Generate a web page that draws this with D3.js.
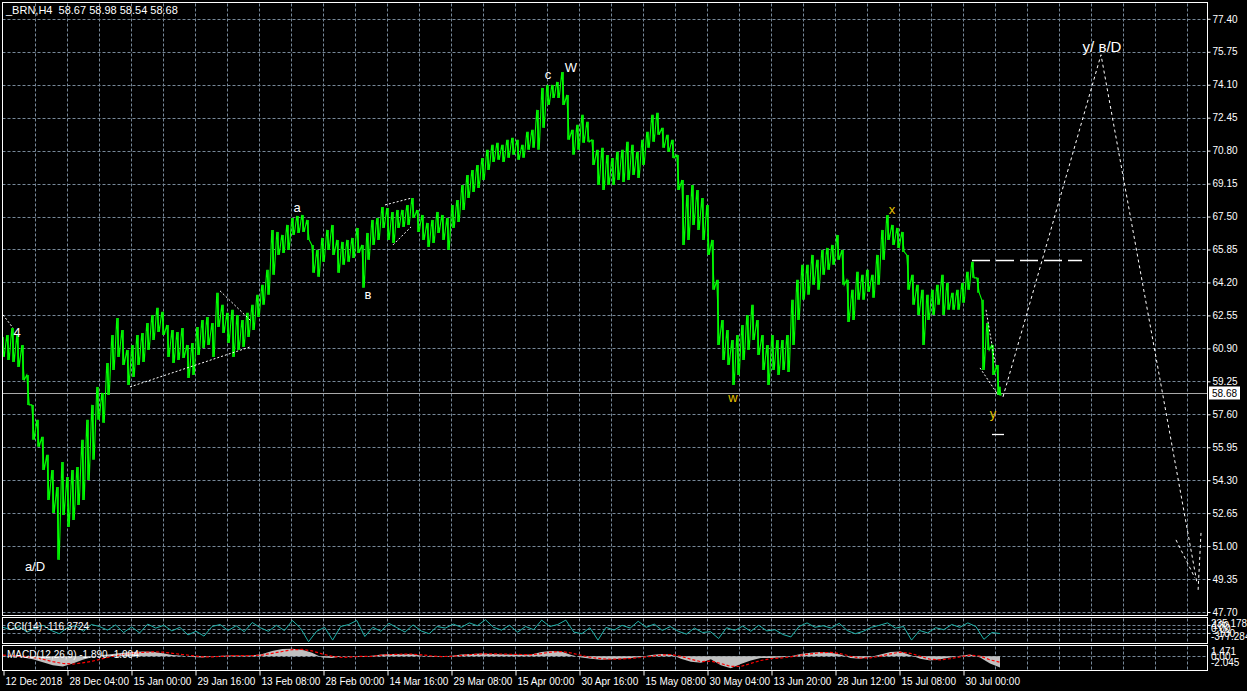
<!DOCTYPE html>
<html><head><meta charset="utf-8">
<script src="https://cdn.jsdelivr.net/npm/d3@7"></script>
<style>
html,body{margin:0;padding:0;background:#000;}
svg{display:block;}
.ui{font-family:"Liberation Sans",Arial,sans-serif;font-size:10px;fill:#fff;}
.wave{font-family:"Liberation Sans",Arial,sans-serif;}
</style></head><body>
<svg id="chart" width="1247" height="691"></svg>
<script>
// ---------------- DATA ----------------
const headerText = "_BRN,H4  58.67 58.98 58.54 58.68";
const barStep = 5;            // sampled every 5 H4 bars
const lastBarIndex = 997;
const priceHigh = [
61.47,61.57,61.92,61.57,61.07,59.57,58.07,57.32,56.47,55.57,
54.81,53.96,55.21,54.46,54.81,54.96,56.32,57.32,58.07,58.97,
58.67,60.17,61.57,62.42,61.82,60.82,61.07,61.57,61.67,62.17,
62.57,62.93,62.73,62.07,61.82,61.72,61.92,61.07,61.17,61.97,
62.32,62.47,62.17,63.68,63.08,62.68,62.83,62.57,62.32,62.68,
63.08,63.58,64.08,64.83,66.83,66.73,66.58,67.08,67.43,67.53,
67.58,67.33,66.08,65.83,66.43,66.83,67.08,66.33,66.23,66.33,
66.43,66.93,66.08,66.68,67.33,67.43,67.98,67.93,67.73,67.83,
67.83,68.08,68.43,67.83,67.58,67.18,67.33,67.73,67.58,67.43,
68.08,68.33,69.08,69.58,69.83,70.08,70.43,70.84,71.09,71.19,
71.09,71.34,71.44,71.34,71.09,71.74,71.84,72.84,73.94,74.09,
74.09,74.24,74.74,73.59,71.84,72.09,72.59,72.24,71.34,70.84,
70.94,70.58,70.43,70.74,70.84,71.24,71.09,70.74,71.34,71.74,
72.59,72.69,71.94,71.59,71.34,70.58,69.33,68.58,69.08,68.83,
68.43,68.08,66.33,64.33,62.32,61.82,61.32,61.57,62.07,62.57,
63.08,62.32,61.57,61.07,61.57,61.32,61.32,61.57,63.33,64.33,
65.08,65.08,65.58,65.33,65.83,65.93,66.08,66.58,65.83,64.33,
63.83,64.73,64.58,64.83,64.58,65.58,66.83,67.58,67.08,66.93,
66.73,65.58,64.58,64.08,63.83,63.58,63.83,64.08,64.58,64.18,
63.68,63.83,64.18,64.73,65.23,64.43,63.33,62.17,61.07,60.07,
58.98];
const priceLow = [
60.47,60.32,60.22,59.97,59.32,58.07,56.32,55.97,54.81,53.31,
52.66,50.31,52.56,51.96,52.31,53.06,53.31,54.31,55.32,57.32,
57.17,58.57,59.82,60.47,60.07,59.07,59.47,60.07,60.22,60.82,
61.32,61.72,61.57,60.47,60.17,60.32,60.42,59.42,59.57,60.57,
60.92,61.07,60.47,61.97,61.67,61.17,60.47,60.82,60.97,61.47,
61.82,62.47,63.08,63.58,64.58,65.58,65.68,65.83,66.58,66.68,
66.73,66.33,64.68,64.48,65.23,65.83,65.58,64.68,65.08,65.23,
65.43,65.68,63.93,65.33,66.08,66.33,66.93,66.33,66.18,66.93,
66.98,67.08,67.43,66.73,66.33,65.98,66.18,66.68,66.33,65.83,
66.93,67.23,67.83,68.43,68.73,68.93,69.33,69.83,70.23,70.34,
70.23,70.44,70.59,70.34,70.44,70.84,70.94,70.84,71.94,73.09,
73.44,73.44,73.09,71.34,70.59,70.84,71.19,71.24,70.08,69.08,
68.83,69.08,69.08,69.33,69.23,69.33,69.58,69.43,70.08,70.94,
71.24,71.59,70.94,70.74,70.43,68.83,66.08,66.33,67.08,66.83,
66.33,65.58,63.83,61.07,60.32,60.07,59.07,59.57,60.32,60.82,
61.32,60.57,59.82,59.07,59.82,59.57,59.82,59.72,61.07,62.32,
63.33,63.58,64.08,63.83,64.58,64.83,65.08,65.33,64.08,62.22,
62.32,63.33,63.33,63.73,63.43,64.08,65.33,66.33,66.08,65.93,
65.73,63.83,63.08,62.57,61.07,62.32,62.57,63.08,62.57,62.83,
62.83,62.83,63.18,63.83,64.43,63.68,59.82,60.82,59.57,58.57,
58.54];
const lastClose = 58.68;

const priceTicks = [77.40,75.75,74.10,72.45,70.80,69.15,67.50,65.85,64.20,62.55,
                    60.90,59.25,57.60,55.95,54.30,52.65,51.00,49.35,47.70];
const timeLabels = ["12 Dec 2018","28 Dec 04:00","15 Jan 00:00","29 Jan 16:00","13 Feb 08:00",
  "28 Feb 00:00","14 Mar 16:00","29 Mar 08:00","15 Apr 00:00","30 Apr 16:00","15 May 08:00",
  "30 May 04:00","13 Jun 20:00","28 Jun 12:00","15 Jul 08:00","30 Jul 00:00"];
const barsPerLabel = 64;

const cciValues = [
40,-20,60,-80,20,90,-40,-120,30,80,
-60,110,60,-30,100,-90,50,-100,120,20,
90,-50,40,-150,-60,-180,60,110,-40,80,
-70,160,30,-60,90,-40,210,20,-320,-60,
40,-280,60,110,210,-190,40,-60,140,30,
-80,100,-50,-120,60,20,120,40,150,80,
230,40,-30,90,-80,60,-20,220,60,110,
220,-80,-120,30,-280,40,-30,90,20,190,
40,120,-40,60,-60,-130,20,-90,-70,-240,
30,-40,70,-60,90,-50,-20,-140,-200,60,
150,40,80,20,140,-40,-120,-60,40,90,
150,20,60,-280,-40,-100,30,-20,110,40,
150,60,-260,-90,-116.3724];
const cciMax = 235.1787, cciMin = -377.284;
const cciLevels = [100, 0, -100];
const cciLabel = "CCI(14) -116.3724";

const macdMain = [
0.1,0.0,-0.2,-0.5,-1.0,-1.5,-1.7,-1.2,-0.6,-0.1,
0.2,0.4,0.6,0.7,0.8,0.75,0.5,0.2,0.1,-0.1,
-0.2,0.0,0.1,0.15,0.1,0.15,0.4,0.9,1.2,1.25,
1.1,0.6,-0.2,-0.3,0.0,0.05,-0.1,0.1,0.3,0.4,
0.35,0.4,0.1,-0.1,-0.05,0.1,0.3,0.4,0.45,0.4,
0.35,0.3,0.25,0.3,0.7,0.9,0.8,0.2,-0.2,-0.4,
-0.6,-0.5,-0.4,-0.3,-0.1,0.2,0.4,0.3,-0.4,-0.9,
-1.1,-0.5,-1.5,-2.0,-1.3,-0.7,-0.3,-0.3,-0.2,0.0,
0.4,0.6,0.7,0.6,0.3,-0.3,-0.4,-0.1,0.3,0.7,
0.8,0.2,-0.4,-0.7,-0.5,-0.2,0.1,0.3,-0.2,-1.2,
-1.89];
const macdSignal = [
0.2,0.1,0.0,-0.2,-0.5,-0.9,-1.2,-1.3,-1.1,-0.8,
-0.4,0.0,0.3,0.5,0.65,0.75,0.7,0.5,0.3,0.1,
-0.1,-0.1,0.0,0.1,0.1,0.1,0.2,0.5,0.8,1.1,
1.15,0.9,0.4,0.0,-0.2,-0.1,0.0,0.0,0.2,0.3,
0.35,0.35,0.25,0.05,-0.05,0.0,0.15,0.3,0.4,0.4,
0.38,0.33,0.3,0.28,0.45,0.7,0.8,0.55,0.15,-0.2,
-0.4,-0.5,-0.45,-0.35,-0.2,0.0,0.2,0.3,0.0,-0.5,
-0.9,-0.8,-1.2,-1.7,-1.7,-1.2,-0.7,-0.4,-0.3,-0.1,
0.2,0.4,0.6,0.65,0.45,0.0,-0.3,-0.25,0.0,0.4,
0.7,0.5,0.0,-0.5,-0.6,-0.4,-0.1,0.2,0.05,-0.6,
-1.0];
const macdMax = 1.471, macdMin = -2.045;
const macdLabel = "MACD(12,26,9) -1.890 -1.004";

// wave annotations (bar index, price)
const waveText  = ["4","a/D","a","в","c","W","w","x","y","y/ в/D"];
const waveBar   = [14, 32, 294, 365, 545, 568, 730, 889, 990, 1099];
const wavePrice = [61.67, 50.00, 67.93, 63.58, 74.59, 74.94, 58.42, 67.83, 57.62, 75.99];
const waveKind  = ["w","w","w","w","w","w","y","y","y","big"];

// dotted trend lines: [bar, price] start / end
const trendStart = [[0,62.58],[127,58.97],[217,63.78],[382,68.08],[390,66.08],[983,62.83],[977,59.92]];
const trendEnd   = [[10,61.92],[247,60.97],[248,62.27],[409,68.43],[408,66.98],[992,60.18],[995,58.57]];
// projected path
const projBar   = [1000, 1098, 1194];
const projPrice = [58.47, 75.60, 49.15];
const wedgeStart = [[1173,51.31],[1198,51.66]];
const wedgeEnd   = [[1192,49.40],[1195,48.70]];
// horizontal level lines
const levelDashed = {bars:[969,1079], price:65.31};
const levelSolid  = {bars:[989,1001], price:56.62};

// ---------------- DRAW ----------------
const svg = d3.select("#chart");
const W = 1247, H = 691;
const L = 2.5, R = 1207.5;
const mainTop = 2.5, mainBot = 615.5;
const cciTop = 617.5, cciBot = 643.5;
const macdTop = 645.5, macdBot = 670.5;
const gridColor = "#778899";

svg.append("rect").attr("width", W).attr("height", H).attr("fill", "#000");

const x = d3.scaleLinear().domain([0, 1205]).range([3, 1208]);
const y = d3.scaleLinear().domain([47.70, 77.40]).range([612, 18.8]);
const yC = d3.scaleLinear().domain([cciMin, cciMax]).range([644, 619.5]);
const yM = d3.scaleLinear().domain([macdMin, macdMax]).range([668.5, 647.5]);

// vertical grid in each panel
const gridBars = d3.range(32, 1186, 32);
[[mainTop, mainBot], [cciTop, cciBot], [macdTop, macdBot]].forEach(([t, b]) => {
  svg.append("g").selectAll("line").data(gridBars).join("line")
    .attr("x1", d => Math.round(x(d)) + 0.5).attr("x2", d => Math.round(x(d)) + 0.5)
    .attr("y1", t + 1).attr("y2", b - 1)
    .attr("stroke", gridColor).attr("stroke-dasharray", "3,2");
});
// horizontal grid main
svg.append("g").selectAll("line").data(priceTicks).join("line")
  .attr("x1", L).attr("x2", R)
  .attr("y1", d => Math.round(y(d)) + 0.5).attr("y2", d => Math.round(y(d)) + 0.5)
  .attr("stroke", gridColor).attr("stroke-dasharray", "3,2");
// CCI levels
svg.append("g").selectAll("line").data(cciLevels).join("line")
  .attr("x1", L).attr("x2", R)
  .attr("y1", d => Math.round(yC(d)) + 0.5).attr("y2", d => Math.round(yC(d)) + 0.5)
  .attr("stroke", gridColor).attr("stroke-dasharray", "3,2");
// MACD zero
svg.append("line").attr("x1", L).attr("x2", R)
  .attr("y1", Math.round(yM(0)) + 0.5).attr("y2", Math.round(yM(0)) + 0.5)
  .attr("stroke", gridColor).attr("stroke-dasharray", "3,2");

// current price line
svg.append("line").attr("x1", L).attr("x2", R)
  .attr("y1", Math.round(y(lastClose)) + 0.5).attr("y2", Math.round(y(lastClose)) + 0.5)
  .attr("stroke", "#a9a9a9");

// price bars (high/low sampled)
const priceBars = priceHigh.map((d, i) => i < priceHigh.length - 1 ? i * barStep : lastBarIndex);
const clipMain = svg.append("clipPath").attr("id", "clipMain")
  .append("rect").attr("x", L).attr("y", mainTop).attr("width", R - L).attr("height", mainBot - mainTop);
const pg = svg.append("g").attr("clip-path", "url(#clipMain)");
const pts = [];
priceBars.forEach((b, i) => {
  pts.push([x(b) - 1.25, y(priceHigh[i])]);
  pts.push([x(b) + 1.25, y(priceLow[i])]);
});
pg.append("path").attr("d", d3.line()(pts))
  .attr("fill", "none").attr("stroke", "#00ff00").attr("stroke-width", 1.1);
pg.selectAll("line.bar").data(priceBars).join("line").attr("class", "bar")
  .attr("x1", d => x(d)).attr("x2", d => x(d))
  .attr("y1", (d, i) => y(priceHigh[i])).attr("y2", (d, i) => y(priceLow[i]))
  .attr("stroke", "#00ff00").attr("stroke-width", 1.6);

// trend lines (dotted)
const tl = svg.append("g").attr("stroke", "#fff").attr("stroke-dasharray", "2,2").attr("fill", "none");
trendStart.forEach((s, i) => {
  tl.append("line").attr("x1", x(s[0])).attr("y1", y(s[1]))
    .attr("x2", x(trendEnd[i][0])).attr("y2", y(trendEnd[i][1]));
});
tl.append("path").attr("d", d3.line()(projBar.map((b, i) => [x(b), y(projPrice[i])])))
  .attr("stroke-dasharray", "3,3");
wedgeStart.forEach((s, i) => {
  tl.append("line").attr("x1", x(s[0])).attr("y1", y(s[1]))
    .attr("x2", x(wedgeEnd[i][0])).attr("y2", y(wedgeEnd[i][1])).attr("stroke-dasharray", "3,3");
});
svg.append("line")
  .attr("x1", x(levelDashed.bars[0])).attr("x2", x(levelDashed.bars[1]))
  .attr("y1", Math.round(y(levelDashed.price)) + 0.5).attr("y2", Math.round(y(levelDashed.price)) + 0.5)
  .attr("stroke", "#fff").attr("stroke-width", 1.3).attr("stroke-dasharray", "18,6");
svg.append("line")
  .attr("x1", x(levelSolid.bars[0])).attr("x2", x(levelSolid.bars[1]))
  .attr("y1", Math.round(y(levelSolid.price)) + 0.5).attr("y2", Math.round(y(levelSolid.price)) + 0.5)
  .attr("stroke", "#fff").attr("stroke-width", 1.3);

// wave labels
const kindStyle = {w: {fill: "#ffffff", size: 13}, y: {fill: "#e6c200", size: 13}, big: {fill: "#ffffff", size: 15}};
svg.append("g").selectAll("text").data(waveText).join("text")
  .attr("class", "wave")
  .attr("x", (d, i) => x(waveBar[i])).attr("y", (d, i) => y(wavePrice[i]))
  .attr("text-anchor", "middle").attr("dominant-baseline", "central")
  .attr("fill", (d, i) => kindStyle[waveKind[i]].fill)
  .attr("font-size", (d, i) => kindStyle[waveKind[i]].size + "px")
  .text(d => d);

// CCI line
const cciBars = cciValues.map((d, i) => i * lastBarIndex / (cciValues.length - 1));
svg.append("path").attr("d", d3.line()(cciValues.map((v, i) => [x(cciBars[i]), yC(v)])))
  .attr("fill", "none").attr("stroke", "#20b2aa").attr("stroke-width", 1);

// MACD
const macdBars = macdMain.map((d, i) => i * lastBarIndex / (macdMain.length - 1));
svg.append("path")
  .attr("d", d3.area().x((d, i) => x(macdBars[i])).y0(yM(0)).y1(d => yM(d))(macdMain))
  .attr("fill", "#c0c0c0");
svg.append("path")
  .attr("d", d3.line().x((d, i) => x(macdBars[i])).y(d => yM(d))(macdSignal))
  .attr("fill", "none").attr("stroke", "#ff0000").attr("stroke-width", 1.2).attr("stroke-dasharray", "3,2");

// panel borders
[[mainTop, mainBot], [cciTop, cciBot], [macdTop, macdBot]].forEach(([t, b]) => {
  svg.append("rect").attr("x", L).attr("y", t).attr("width", R - L).attr("height", b - t)
    .attr("fill", "none").attr("stroke", "#fff");
});

// price axis
const pAxis = svg.append("g").attr("transform", `translate(${R},0)`)
  .call(d3.axisRight(y).tickValues(priceTicks).tickFormat(d3.format(".2f")).tickSize(3).tickPadding(2));
pAxis.select(".domain").remove();
pAxis.selectAll("line").attr("stroke", "#fff");
pAxis.selectAll("text").attr("class", "ui").attr("fill", "#fff").attr("font-size", null).attr("font-family", null);

// current price tag
const tagY = Math.round(y(lastClose));
svg.append("rect").attr("x", 1209).attr("y", tagY - 6.5).attr("width", 31).attr("height", 13).attr("fill", "#fff");
svg.append("text").attr("class", "ui").attr("x", 1212).attr("y", tagY)
  .attr("dominant-baseline", "central").style("fill", "#000").text(d3.format(".2f")(lastClose));

// CCI scale labels
const cciAxis = svg.append("g").attr("transform", `translate(${R},0)`)
  .call(d3.axisRight(yC).tickValues([100, -100]).tickFormat(d3.format("d")).tickSize(3).tickPadding(2));
cciAxis.select(".domain").remove();
cciAxis.selectAll("line").attr("stroke", "#fff");
cciAxis.selectAll("text").attr("class", "ui").attr("font-size", null).attr("font-family", null);
svg.append("text").attr("class", "ui").attr("x", 1211).attr("y", yC(0)).attr("dominant-baseline", "central").text("0.00");
svg.append("text").attr("class", "ui").attr("x", 1211).attr("y", cciTop + 6).attr("dominant-baseline", "central").text(String(cciMax));
svg.append("text").attr("class", "ui").attr("x", 1211).attr("y", cciBot - 7).attr("dominant-baseline", "central").text(String(cciMin));

// MACD scale labels
svg.append("text").attr("class", "ui").attr("x", 1211).attr("y", macdTop + 6).attr("dominant-baseline", "central").text(String(macdMax));
svg.append("text").attr("class", "ui").attr("x", 1211).attr("y", yM(0)).attr("dominant-baseline", "central").text("0.00");
svg.append("text").attr("class", "ui").attr("x", 1211).attr("y", macdBot - 8).attr("dominant-baseline", "central").text(String(macdMin));

// time axis
const labelBars = timeLabels.map((d, i) => i * barsPerLabel);
const tAxis = svg.append("g").attr("transform", `translate(0,${macdBot})`)
  .call(d3.axisBottom(x).tickValues(labelBars).tickFormat((d, i) => timeLabels[i]).tickSize(5).tickPadding(2));
tAxis.select(".domain").remove();
tAxis.selectAll("line").attr("stroke", "#fff").attr("transform", "translate(0.5,0)");
tAxis.selectAll("text").attr("class", "ui").attr("font-size", null).attr("font-family", null)
  .attr("text-anchor", "start").attr("dx", 2);

// header & indicator labels
svg.append("text").attr("class", "ui").attr("x", 6).attr("y", 14).style("white-space", "pre")
  .style("font-size", "11px").text(headerText);
svg.append("text").attr("class", "ui").attr("x", 7).attr("y", 630).text(cciLabel);
svg.append("text").attr("class", "ui").attr("x", 7).attr("y", 658).text(macdLabel);
</script>
</body></html>
